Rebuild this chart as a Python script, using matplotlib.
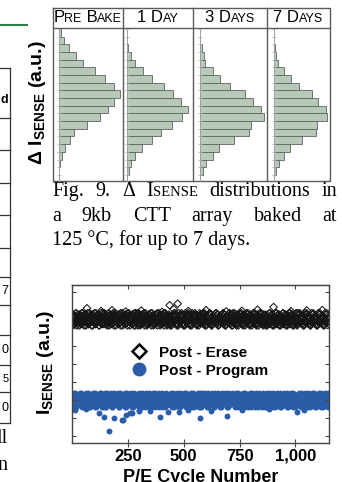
import numpy as np
import matplotlib
matplotlib.use('Agg')
import matplotlib.pyplot as plt
from matplotlib.lines import Line2D

plt.rcParams['font.family'] = ['Liberation Sans', 'DejaVu Sans']

# ---- Fig. 9: delta I_sense histograms (bar length per bin, top bin first) ----
hist_titles = ['Pre Bake', '1 Day', '3 Days', '7 Days']
pre_bake = [5, 14, 30, 50, 71, 108, 138, 163, 181, 163, 146, 121, 84, 43, 31, 16, 8, 3, 0, 0]
one_day = [0, 0, 3, 10, 23, 48, 73, 111, 136, 160, 183, 163, 133, 100, 73, 43, 23, 11, 6, 0]
three_days = [0, 0, 4, 10, 15, 37, 60, 90, 135, 158, 183, 190, 152, 147, 100, 55, 37, 17, 8, 0]
seven_days = [0, 0, 3, 6, 12, 32, 53, 77, 114, 134, 157, 160, 129, 127, 85, 50, 32, 15, 7, 0]

# ---- P/E cycling: one digit per sample, read as band level (0 = top of band) ----
erase_digits_a = (
    "528174903628519473068259147360852941763805296417"
    "941637205814392760538142967053184269730541827906"
    "360927451836094725183609247518306942751830694275"
    "715203869471250938641725093864172509386471253098"
    "264819370562498103756294180375624918307562941830"
    "839150426738915042673891504267389150426738915042"
    "407263915840726391584072639158407263915840726391"
    "192837465019283746501928374650192837465019283746")
erase_digits_b = (
    "073619258407361925840736192584073619258407361925"
    "618204973561820497356182049735618204973561820497"
    "295740168329574016832957401683295740168329574016"
    "840153726984015372698401537269840153726984015372"
    "357928041635792804163579280416357928041635792804"
    "926371850492637185049263718504926371850492637185"
    "581046293758104629375810462937581046293758104629"
    "034892517603489251760348925176034892517603489251")
program_digits_a = (
    "306172948530617294853061729485306172948530617294"
    "849205716384920571638492057163849205716384920571"
    "152938470615293847061529384706152938470615293847"
    "673019284567301928456730192845673019284567301928"
    "928461037592846103759284610375928461037592846103"
    "415827390641582739064158273906415827390641582739"
    "760394812576039481257603948125760394812576039481"
    "283750619428375061942837506194283750619428375061")
program_digits_b = (
    "517093846251709384625170938462517093846251709384"
    "094638152709463815270946381527094638152709463815"
    "738205619473820561947382056194738205619473820561"
    "261847095326184709532618470953261847095326184709"
    "805316472980531647298053164729805316472980531647"
    "642970381564297038156429703815642970381564297038"
    "379526140837952614083795261408379526140837952614"
    "150683927415068392741506839274150683927415068392")
erase_out_cycle = [67, 130, 179, 240, 310, 403, 437, 455, 473, 520, 600, 690, 760, 830, 902, 980, 1050, 1120]
erase_out_val = [7.10, 6.95, 6.99, 6.92, 6.97, 6.90, 7.27, 7.05, 7.36, 6.95, 7.00, 6.93, 6.96, 7.02, 7.17, 6.94, 6.98, 7.00]
prog_out_cycle = [15, 64, 119, 141, 164, 186, 224, 228, 240, 261, 268, 298, 302, 350, 395, 430, 480,
                  520, 571, 620, 693, 760, 880, 1007, 1040]
prog_out_val = [1.43, 1.50, 1.25, 1.06, 0.28, 0.97, 0.88, 0.90, 1.15, 1.25, 1.27, 1.43, 1.36, 1.40, 1.06,
                1.35, 1.30, 1.45, 0.97, 1.38, 1.12, 1.45, 1.48, 1.34, 1.42]
x_ticks = [250, 500, 750, 1000]
x_ticklabels = ['250', '500', '750', '1,000']
legend_labels = ['Post - Erase', 'Post - Program']


def levels(s):
    return np.array([int(c) for c in s])


erase_a = 6.15 + 0.075 * levels(erase_digits_a)
erase_b = 6.15 + 0.075 * levels(erase_digits_b)
program_a = 2.38 - 0.085 * levels(program_digits_a)
program_b = 2.38 - 0.085 * levels(program_digits_b)

W, H = 342, 482
fig = plt.figure(figsize=(W / 100, H / 100), dpi=100)
rend = fig.canvas.get_renderer()


def box(x0, y0, x1, y1):
    return [x0 / W, 1 - y1 / H, (x1 - x0) / W, (y1 - y0) / H]


# overlay in pixel coordinates for the page fragments
ov = fig.add_axes([0, 0, 1, 1])
ov.set_xlim(0, W)
ov.set_ylim(H, 0)
ov.axis('off')


def make_runs(runs, y, family, weight='normal'):
    objs = [ov.text(0, y, s, fontsize=sz, family=family, weight=weight, va='baseline') for s, sz in runs]
    widths = [t.get_window_extent(rend).width for t in objs]
    return objs, widths


def place(objs, widths, x):
    for t, w in zip(objs, widths):
        t.set_x(x)
        x += w


def smallcaps(s, big, small):
    runs = []
    for ch in s:
        sz = small if ch.islower() else big
        if runs and runs[-1][1] == sz:
            runs[-1] = (runs[-1][0] + ch.upper(), sz)
        else:
            runs.append((ch.upper(), sz))
    return runs


serif = 'Liberation Serif'
csz = 14.5

# left column: table edge and text
ov.plot([0, 27], [25, 25], color='#2e7d4a', lw=1.5)
ov.plot([10, 10], [68, 423], color='#333333', lw=0.9)
for yy in [68, 118, 150, 183, 215, 248, 277, 305, 335, 365, 392, 423]:
    ov.plot([0, 10], [yy, yy], color='#333333', lw=0.9)
ov.text(8.5, 100, 'd', ha='right', va='center', fontsize=9, weight='bold')
for s, yy, sz in [('7', 291, 9), ('0', 350, 9), ('5', 379, 8), ('0', 408, 9)]:
    ov.text(8.5, yy, s, ha='right', va='center', fontsize=sz)
ov.text(8, 443, 'll', ha='right', va='baseline', fontsize=csz, family=serif)
ov.text(7, 470, 'n', ha='right', va='baseline', fontsize=csz, family=serif)

# Fig. 9 panel
col_left = [52.7, 122.7, 192.7, 266.7]
col_right = [122.7, 192.7, 266.7, 330.0]
axis_x = [59.3, 127.3, 200.3, 273.5]
pc = '#5a5a5a'
ov.plot([52.7, 330, 330, 52.7, 52.7], [8, 8, 181, 181, 8], color=pc, lw=1.0)
ov.plot([52.7, 330], [28, 28], color=pc, lw=1.0)
for xx in col_left[1:]:
    ov.plot([xx, xx], [8, 181], color=pc, lw=1.0)

for i, (title, vals) in enumerate(zip(hist_titles, [pre_bake, one_day, three_days, seven_days])):
    objs, widths = make_runs(smallcaps(title, 12, 9), 22, 'Liberation Sans')
    place(objs, widths, (col_left[i] + col_right[i]) / 2 - sum(widths) / 2)
    hax = fig.add_axes(box(axis_x[i], 29, col_right[i], 181))
    hax.barh(np.arange(len(vals)) + 0.5, vals, height=1.0, color='#b7c9b9',
             edgecolor='#5f6360', linewidth=0.6)
    hax.set_ylim(19.8, 0)
    hax.set_xlim(0, (col_right[i] - axis_x[i]) * 3)
    for side in ['top', 'right', 'bottom']:
        hax.spines[side].set_visible(False)
    hax.spines['left'].set_color('#a8a8a8')
    hax.spines['left'].set_linewidth(0.6)
    hax.set_xticks([])
    hax.set_yticks(np.arange(0, 20))
    hax.tick_params(axis='y', length=2.5, width=0.5, color='#a8a8a8', direction='inout', labelleft=False)
    hax.patch.set_alpha(0)

ov.text(37, 103, 'Δ $\\mathregular{I_{SENSE}}$ (a.u.)', rotation=90, ha='center', va='center',
        fontsize=14, weight='bold')

# caption (justified)
cap1 = [[('Fig.', csz)], [('9.', csz)], [('Δ', csz)], [('I', csz), ('SENSE', 10.5)],
        [('distributions', csz)], [('in', csz)]]
cap2 = [[('a', csz)], [('9kb', csz)], [('CTT', csz)], [('array', csz)], [('baked', csz)], [('at', csz)]]
for words, yy in [(cap1, 196), (cap2, 221)]:
    made = [make_runs(w, yy, serif) for w in words]
    tot = sum(sum(wd) for _, wd in made)
    gap = (337 - 52 - tot) / (len(made) - 1)
    x = 52
    for objs, wd in made:
        place(objs, wd, x)
        x += sum(wd) + gap
objs, wd = make_runs([('125 °C, for up to 7 days.', csz)], 245, serif)
place(objs, wd, 52)

# P/E cycling scatter
ax = fig.add_axes(box(72, 285, 329, 443))
mk_e = dict(marker='D', facecolors='none', edgecolors='#151515', s=15, linewidths=0.75)
mk_p = dict(marker='o', color='#2b5ca8', s=18, linewidths=0)
ax.scatter(np.linspace(1, 1150, len(erase_a)), erase_a, **mk_e)
ax.scatter(np.linspace(2.5, 1148.5, len(erase_b)), erase_b, **mk_e)
ax.scatter(erase_out_cycle, erase_out_val, **mk_e)
ax.scatter(np.linspace(1, 1150, len(program_a)), program_a, **mk_p)
ax.scatter(np.linspace(2.5, 1148.5, len(program_b)), program_b, **mk_p)
ax.scatter(prog_out_cycle, prog_out_val, **mk_p)
ax.set_xlim(0, 1150)
ax.set_ylim(-0.4, 8.4)
ax.set_yticks(range(0, 9))
ax.tick_params(axis='y', direction='in', length=3, width=0.8, color='#444444',
               left=True, right=True, labelleft=False)
ax.set_xticks(x_ticks)
ax.set_xticklabels(x_ticklabels, fontsize=12, weight='bold')
ax.tick_params(axis='x', direction='inout', length=6, width=0.8, color='#444444', pad=1)
for s in ax.spines.values():
    s.set_color('#444444')
    s.set_linewidth(1.0)
top = ax.secondary_xaxis('top')
top.set_xticks(x_ticks)
top.tick_params(direction='in', length=3, width=0.8, color='#444444', labeltop=False)

handles = [Line2D([], [], marker='D', ls='none', mfc='none', mec='black', ms=7, mew=1.8),
           Line2D([], [], marker='o', ls='none', color='#2b5ca8', ms=9)]
ax.legend(handles, legend_labels, loc='center left', bbox_to_anchor=(0.2, 0.515), frameon=False,
          prop={'weight': 'bold', 'size': 11}, handlelength=1.0, handletextpad=0.8, labelspacing=0.25,
          borderpad=0)

ov.text(46, 362, '$\\mathregular{I_{SENSE}}$ (a.u.)', rotation=90, ha='center', va='center',
        fontsize=14, weight='bold')
ov.text(200.5, 482, 'P/E Cycle Number', ha='center', va='baseline', fontsize=13, weight='bold')

fig.savefig('out.png', dpi=100)
